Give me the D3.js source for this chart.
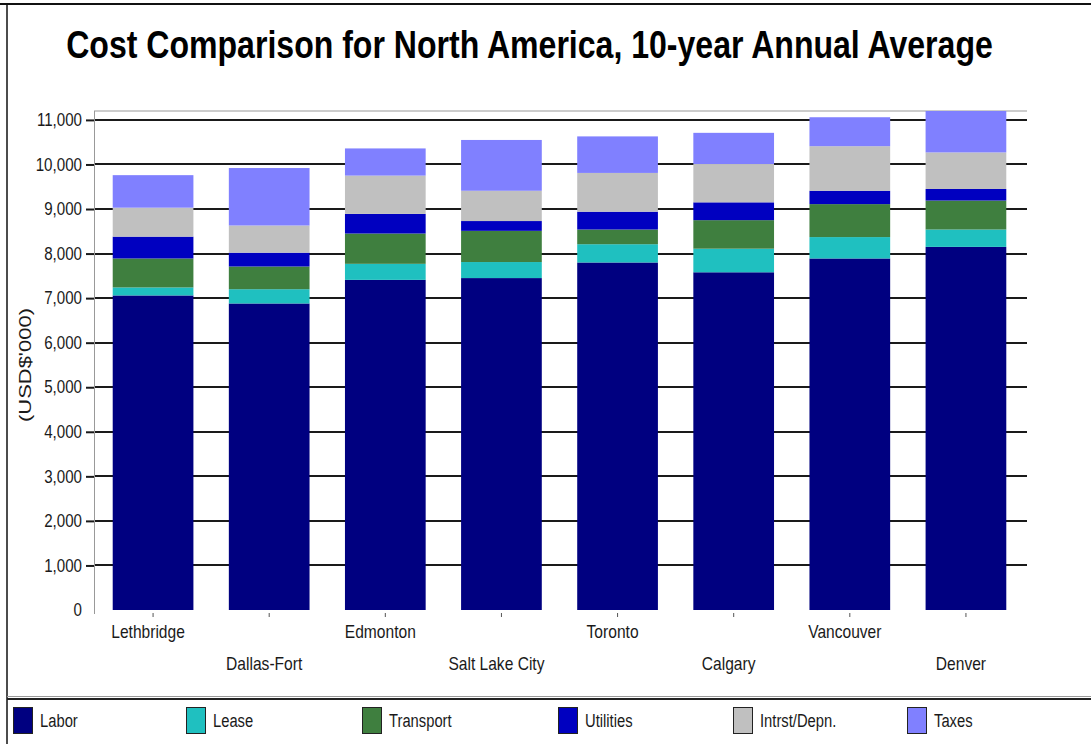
<!DOCTYPE html>
<html>
<head>
<meta charset="utf-8">
<script src="https://cdn.jsdelivr.net/npm/d3@7"></script>
<style>
  html, body { margin: 0; padding: 0; background: #fff; }
  svg { display: block; }
  text { font-family: "Liberation Sans Narrow", "Arial Narrow", "Liberation Sans", Arial, sans-serif; fill: #1a1a1a; }
</style>
</head>
<body>
<svg id="chart" width="1091" height="744"></svg>
<script>
const categories = ["Lethbridge", "Dallas-Fort", "Edmonton", "Salt Lake City", "Toronto", "Calgary", "Vancouver", "Denver"];
const seriesNames = ["Labor", "Lease", "Transport", "Utilities", "Intrst/Depn.", "Taxes"];
const labor     = [7060, 6880, 7410, 7450, 7800, 7580, 7890, 8150];
const lease     = [180, 320, 360, 360, 410, 530, 480, 390];
const transport = [650, 510, 680, 700, 330, 640, 740, 650];
const utilities = [490, 310, 440, 220, 400, 400, 300, 260];
const intrst    = [650, 610, 860, 680, 870, 860, 1000, 820];
const taxes     = [730, 1290, 610, 1140, 820, 700, 650, 930];
const yTicks = [0, 1000, 2000, 3000, 4000, 5000, 6000, 7000, 8000, 9000, 10000, 11000];
const colors = ["#000080", "#1fc0c0", "#3f7f3f", "#0000c0", "#c0c0c0", "#8080ff"];

const seriesValues = [labor, lease, transport, utilities, intrst, taxes];
const table = categories.map((c, i) => {
  const row = { category: c };
  seriesNames.forEach((s, j) => row[s] = seriesValues[j][i]);
  return row;
});

// condense text horizontally to mimic a narrow face
function narrow(sel, factor) {
  sel.each(function () {
    const w = this.getComputedTextLength();
    d3.select(this).attr("textLength", (w * factor).toFixed(1)).attr("lengthAdjust", "spacingAndGlyphs");
  });
}

const svg = d3.select("#chart");
const plotLeft = 94, plotRight = 1027, plotTop = 111, plotBottom = 610;

const x = d3.scaleBand().domain(categories).range([95, 1024]).paddingInner(0.305).paddingOuter(0.1525);
const y = d3.scaleLinear().domain([0, 11200]).range([plotBottom, plotTop]);

// outer frame lines
svg.append("line").attr("x1", 0).attr("x2", 1091).attr("y1", 4).attr("y2", 4).attr("stroke", "#111").attr("stroke-width", 2);
svg.append("line").attr("x1", 7).attr("x2", 7).attr("y1", 4).attr("y2", 744).attr("stroke", "#111").attr("stroke-width", 1.5);
svg.append("line").attr("x1", 7).attr("x2", 1091).attr("y1", 696.5).attr("y2", 696.5).attr("stroke", "#999").attr("stroke-width", 1);
svg.append("line").attr("x1", 7).attr("x2", 1091).attr("y1", 699).attr("y2", 699).attr("stroke", "#222").attr("stroke-width", 2);

// title: size chosen so natural width is ~927px, then stretched vertically
const titleG = svg.append("g");
const title = titleG.append("text")
  .attr("x", 0).attr("y", 0)
  .attr("text-anchor", "middle")
  .attr("font-size", 36).attr("font-weight", "bold")
  .style("fill", "#000")
  .text("Cost Comparison for North America, 10-year Annual Average");
const tw = title.node().getComputedTextLength();
const tfs = 36 * 927 / tw;
title.attr("font-size", tfs.toFixed(2));
const sy = 28 / (0.729 * tfs);
titleG.attr("transform", `translate(529.5,58) scale(1,${sy.toFixed(3)})`);

// plot top frame
svg.append("line").attr("x1", plotLeft).attr("x2", plotRight).attr("y1", plotTop).attr("y2", plotTop).attr("stroke", "#999").attr("stroke-width", 1);

// gridlines
svg.append("g").selectAll("line")
  .data(yTicks.filter(d => d > 0))
  .join("line")
  .attr("x1", plotLeft).attr("x2", plotRight)
  .attr("y1", d => Math.round(y(d))).attr("y2", d => Math.round(y(d)))
  .attr("stroke", "#1a1a1a").attr("stroke-width", 2);

// y axis
const yAxis = d3.axisLeft(y).tickValues(yTicks).tickFormat(d3.format(",")).tickSize(8).tickPadding(4);
const yg = svg.append("g").attr("transform", `translate(${plotLeft},0)`).call(yAxis);
yg.select(".domain").attr("stroke", "#999").attr("stroke-width", 1).attr("d", `M0.5,${plotTop}V${plotBottom + 4}`);
yg.selectAll(".tick line").attr("stroke", "#1a1a1a").attr("stroke-width", 2);
yg.selectAll(".tick text").attr("font-size", 18).style("fill", "#1a1a1a")
  .style("font-family", '"Liberation Sans Narrow", "Arial Narrow", "Liberation Sans", Arial, sans-serif');
yg.selectAll(".tick").filter(d => d === 0).select("line").remove();
narrow(yg.selectAll(".tick text"), 0.84);

// y axis title
svg.append("text")
  .attr("transform", "translate(31,365) rotate(-90)")
  .attr("text-anchor", "middle")
  .attr("font-size", 17)
  .attr("textLength", 114).attr("lengthAdjust", "spacingAndGlyphs")
  .text("(USD$'000)");

// stacked bars
const stack = d3.stack().keys(seriesNames);
const stacked = stack(table);
svg.append("g").selectAll("g")
  .data(stacked)
  .join("g")
  .attr("fill", (d, i) => colors[i])
  .selectAll("rect")
  .data(d => d)
  .join("rect")
  .attr("x", d => x(d.data.category))
  .attr("width", x.bandwidth())
  .attr("y", d => y(d[1]))
  .attr("height", d => y(d[0]) - y(d[1]));

// x axis ticks and labels
const xg = svg.append("g");
categories.forEach((c, i) => {
  const cx = x(c) + x.bandwidth() / 2;
  xg.append("line").attr("x1", cx).attr("x2", cx).attr("y1", 613).attr("y2", 617).attr("stroke", "#555").attr("stroke-width", 1);
  xg.append("text")
    .attr("x", cx - 5)
    .attr("y", i % 2 === 0 ? 638 : 670)
    .attr("text-anchor", "middle")
    .attr("font-size", 19)
    .text(c);
});
narrow(xg.selectAll("text"), 0.82);

// legend
const legendX = [13, 186, 362, 558, 733, 907];
const lg = svg.append("g");
seriesNames.forEach((s, i) => {
  lg.append("rect").attr("x", legendX[i] + 0.5).attr("y", 707.5).attr("width", 19).attr("height", 26)
    .attr("fill", colors[i]).attr("stroke", "#222").attr("stroke-width", 1);
  lg.append("text").attr("x", legendX[i] + 27).attr("y", 727).attr("font-size", 18).text(s);
});
narrow(lg.selectAll("text"), 0.82);
</script>
</body>
</html>
